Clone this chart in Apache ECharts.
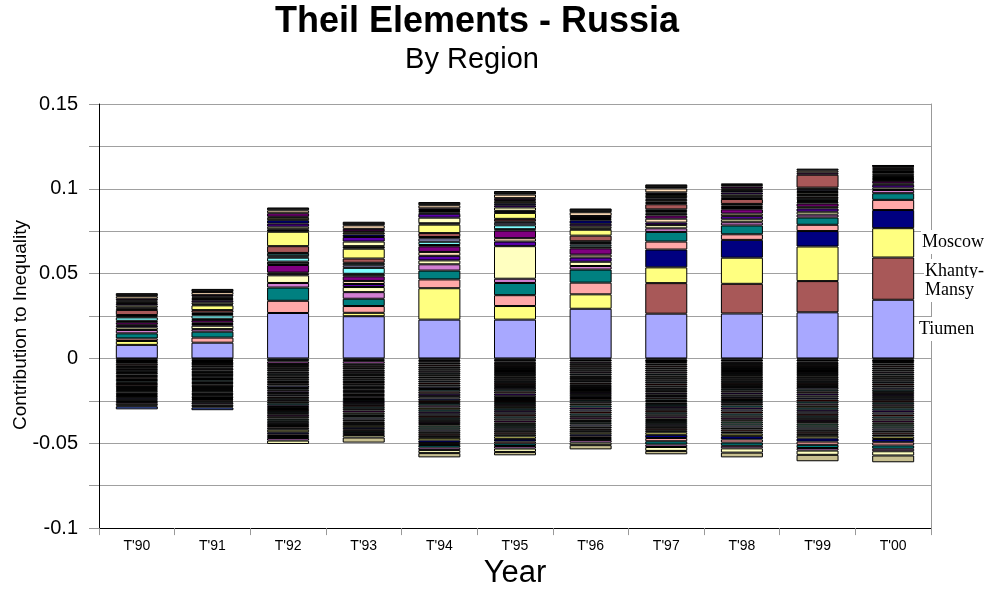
<!DOCTYPE html>
<html><head><meta charset="utf-8">
<script src="https://cdn.jsdelivr.net/npm/echarts@6/dist/echarts.min.js"></script>
<style>html,body{margin:0;padding:0;background:#fff}#c{width:988px;height:594px}</style>
</head><body><div id="c"></div>
<script>
const years = ["T'90","T'91","T'92","T'93","T'94","T'95","T'96","T'97","T'98","T'99","T'00"];
const yTicks = [-0.1, -0.05, 0, 0.05, 0.1, 0.15];

// Positive contributions, stacked from zero upward
const tiumen      = [0.0080,0.0093,0.0268,0.0249,0.0229,0.0229,0.0293,0.0264,0.0265,0.0272,0.0346];
const khantyMansy = [null,null,null,null,null,null,null,0.0180,0.0175,0.0184,0.0249];
const moscow      = [0.0023,null,null,0.0020,0.0185,0.0080,0.0085,0.0093,0.0154,0.0204,0.0173];
const positiveOthers = [
  [null,null,null,null,null,null,null,0.0105,0.0105,0.0091,0.0107],
  [0.0015,0.0030,0.0072,0.0040,0.0052,0.0064,0.0069,0.0047,0.0033,0.0037,0.0060],
  [0.0030,0.0035,0.0078,0.0043,0.0052,0.0072,0.0077,0.0057,0.0052,0.0043,0.0039],
  [0.0020,0.0015,0.0027,0.0039,0.0037,0.0025,0.0021,0.0021,0.0019,0.0017,0.0019],
  [0.0015,0.0020,0.0045,0.0030,0.0023,0.0192,0.0025,0.0019,0.0017,0.0017,0.0014],
  [0.0010,0.0010,0.0010,0.0018,0.0027,0.0027,0.0025,0.0015,0.0019,0.0019,0.0017],
  [0.0006,0.0008,0.0006,0.0018,0.0023,0.0020,0.0017,0.0023,0.0015,0.0010,0.0008],
  [0.0015,0.0015,0.0045,0.0027,0.0033,0.0045,0.0037,0.0019,0.0025,0.0019,0.0015],
  [0.0008,0.0008,0.0020,0.0015,0.0008,0.0008,0.0010,0.0010,0.0008,0.0010,0.0006],
  [0.0020,0.0020,0.0023,0.0035,0.0019,0.0023,0.0012,0.0008,0.0006,0.0006,0.0005],
  [0.0006,0.0008,0.0008,0.0015,0.0020,0.0015,0.0010,0.0008,0.0008,0.0006,0.0005],
  [0.0008,0.0008,0.0020,0.0015,0.0008,0.0008,0.0010,0.0010,0.0010,0.0010,0.0006],
  [0.0030,0.0015,0.0040,0.0025,0.0023,0.0015,0.0033,0.0030,0.0029,0.0010,0.0008],
  [0.0008,0.0028,0.0085,0.0058,0.0050,0.0035,0.0035,0.0008,0.0008,0.0008,0.0006],
  [0.0006,0.0006,0.0015,0.0015,0.0008,0.0012,0.0008,0.0008,0.0008,0.0008,0.0008],
  [0.0012,0.0012,0.0015,0.0027,0.0033,0.0020,0.0012,0.0010,0.0010,0.0010,0.0008],
  [0.0010,0.0012,0.0018,0.0027,0.0023,0.0013,0.0015,0.0008,0.0012,0.0008,0.0008],
  [0.0006,0.0008,0.0020,0.0015,0.0008,0.0012,0.0020,0.0008,0.0010,0.0008,0.0006],
  [0.0008,0.0008,0.0015,0.0012,0.0008,0.0012,0.0008,0.0012,0.0008,0.0010,0.0006],
  [0.0006,0.0006,0.0006,0.0006,0.0006,0.0006,0.0006,0.0006,0.0006,0.0076,0.0006],
  [0.0010,0.0010,0.0020,0.0015,0.0010,0.0012,0.0012,0.0010,0.0012,0.0012,0.0008],
  [0.0015,0.0017,0.0017,0.0021,0.0018,0.0021,0.0022,0.0023,0.0009,0.0012,0.0003],
  [0.0018,0.0018,0.0017,0.0021,0.0019,0.0021,0.0022,0.0024,0.0009,0.0012,0.0003]
];

// Negative contributions, stacked from zero downward
const negativeRegions = [
  [-0.0005,-0.0005,-0.0010,-0.0008,-0.0006,-0.0008,-0.0006,-0.0006,-0.0006,-0.0006,-0.0006],
  [-0.0010,-0.0010,-0.0008,-0.0008,-0.0010,-0.0010,-0.0012,-0.0015,-0.0012,-0.0012,-0.0015],
  [-0.0006,-0.0006,-0.0015,-0.0015,-0.0008,-0.0008,-0.0010,-0.0008,-0.0008,-0.0008,-0.0008],
  [-0.0010,-0.0012,-0.0012,-0.0012,-0.0012,-0.0012,-0.0012,-0.0012,-0.0012,-0.0012,-0.0012],
  [-0.0012,-0.0010,-0.0010,-0.0012,-0.0012,-0.0012,-0.0012,-0.0012,-0.0012,-0.0012,-0.0012],
  [-0.0008,-0.0010,-0.0012,-0.0010,-0.0012,-0.0012,-0.0012,-0.0012,-0.0012,-0.0012,-0.0012],
  [-0.0010,-0.0008,-0.0010,-0.0010,-0.0012,-0.0012,-0.0012,-0.0012,-0.0012,-0.0012,-0.0012],
  [-0.0008,-0.0010,-0.0010,-0.0012,-0.0012,-0.0012,-0.0012,-0.0012,-0.0012,-0.0012,-0.0012],
  [-0.0010,-0.0008,-0.0012,-0.0010,-0.0012,-0.0012,-0.0012,-0.0012,-0.0012,-0.0012,-0.0012],
  [-0.0006,-0.0008,-0.0008,-0.0010,-0.0010,-0.0010,-0.0010,-0.0010,-0.0010,-0.0010,-0.0010],
  [-0.0010,-0.0010,-0.0012,-0.0012,-0.0012,-0.0012,-0.0012,-0.0012,-0.0012,-0.0012,-0.0012],
  [-0.0008,-0.0008,-0.0010,-0.0010,-0.0012,-0.0012,-0.0010,-0.0012,-0.0012,-0.0012,-0.0012],
  [-0.0008,-0.0008,-0.0010,-0.0010,-0.0012,-0.0012,-0.0010,-0.0012,-0.0012,-0.0012,-0.0012],
  [-0.0008,-0.0008,-0.0010,-0.0010,-0.0012,-0.0012,-0.0010,-0.0012,-0.0012,-0.0012,-0.0012],
  [-0.0008,-0.0008,-0.0010,-0.0010,-0.0012,-0.0012,-0.0010,-0.0012,-0.0012,-0.0012,-0.0012],
  [null,null,-0.0015,-0.0008,-0.0014,-0.0013,-0.0012,-0.0010,-0.0011,-0.0014,-0.0013],
  [null,null,-0.0010,-0.0008,-0.0014,-0.0013,-0.0012,-0.0010,-0.0011,-0.0012,-0.0013],
  [null,null,-0.0010,-0.0008,-0.0014,-0.0013,-0.0012,-0.0010,-0.0011,-0.0012,-0.0013],
  [null,null,-0.0010,-0.0008,-0.0014,-0.0013,-0.0012,-0.0010,-0.0011,-0.0012,-0.0012],
  [null,null,-0.0010,-0.0008,-0.0014,-0.0013,-0.0012,-0.0010,-0.0011,-0.0012,-0.0012],
  [null,null,-0.0010,-0.0008,-0.0014,-0.0012,-0.0011,-0.0010,-0.0011,-0.0012,-0.0012],
  [null,null,-0.0010,-0.0008,-0.0013,-0.0012,-0.0011,-0.0010,-0.0011,-0.0012,-0.0012],
  [null,null,-0.0010,-0.0008,-0.0013,-0.0012,-0.0011,-0.0010,-0.0011,-0.0012,-0.0012],
  [null,null,-0.0010,-0.0008,-0.0013,-0.0012,-0.0011,-0.0009,-0.0011,-0.0012,-0.0012],
  [null,null,-0.0010,-0.0008,-0.0013,-0.0012,-0.0011,-0.0009,-0.0010,-0.0012,-0.0012],
  [-0.0010,-0.0008,-0.0012,-0.0012,-0.0012,-0.0012,-0.0012,-0.0012,-0.0012,-0.0012,-0.0012],
  [-0.0006,-0.0008,-0.0010,-0.0012,-0.0012,-0.0012,-0.0012,-0.0012,-0.0012,-0.0012,-0.0012],
  [-0.0008,-0.0008,-0.0012,-0.0012,-0.0012,-0.0012,-0.0012,-0.0012,-0.0012,-0.0012,-0.0012],
  [-0.0010,-0.0008,-0.0012,-0.0010,-0.0012,-0.0012,-0.0012,-0.0012,-0.0012,-0.0012,-0.0012],
  [-0.0008,-0.0008,-0.0012,-0.0012,-0.0012,-0.0012,-0.0012,-0.0012,-0.0012,-0.0012,-0.0012],
  [-0.0006,-0.0006,-0.0010,-0.0010,-0.0012,-0.0012,-0.0010,-0.0012,-0.0012,-0.0012,-0.0012],
  [-0.0006,-0.0006,-0.0012,-0.0012,-0.0012,-0.0012,-0.0012,-0.0012,-0.0012,-0.0012,-0.0012],
  [-0.0006,-0.0006,-0.0010,-0.0010,-0.0010,-0.0010,-0.0010,-0.0010,-0.0010,-0.0010,-0.0010],
  [-0.0006,-0.0006,-0.0010,-0.0010,-0.0012,-0.0012,-0.0010,-0.0012,-0.0012,-0.0012,-0.0012],
  [-0.0008,-0.0008,-0.0010,-0.0010,-0.0012,-0.0012,-0.0010,-0.0012,-0.0012,-0.0012,-0.0012],
  [-0.0008,-0.0008,-0.0012,-0.0012,-0.0012,-0.0012,-0.0012,-0.0012,-0.0012,-0.0012,-0.0012],
  [-0.0006,-0.0008,-0.0012,-0.0010,-0.0012,-0.0012,-0.0012,-0.0012,-0.0012,-0.0012,-0.0012],
  [-0.0006,-0.0006,-0.0010,-0.0010,-0.0012,-0.0012,-0.0010,-0.0012,-0.0012,-0.0012,-0.0012],
  [-0.0008,-0.0010,-0.0012,-0.0012,-0.0012,-0.0012,-0.0012,-0.0012,-0.0012,-0.0012,-0.0012],
  [-0.0006,-0.0006,-0.0015,-0.0012,-0.0015,-0.0015,-0.0012,-0.0015,-0.0015,-0.0015,-0.0015],
  [-0.0008,-0.0008,-0.0012,-0.0012,-0.0015,-0.0015,-0.0012,-0.0019,-0.0019,-0.0019,-0.0019],
  [-0.0006,-0.0006,-0.0010,-0.0010,-0.0012,-0.0012,-0.0010,-0.0019,-0.0019,-0.0019,-0.0019],
  [-0.0008,-0.0008,-0.0012,-0.0012,-0.0015,-0.0015,-0.0012,-0.0019,-0.0019,-0.0019,-0.0019],
  [-0.0010,-0.0010,-0.0015,-0.0012,-0.0015,-0.0015,-0.0015,-0.0015,-0.0015,-0.0015,-0.0015],
  [-0.0010,-0.0010,-0.0020,-0.0015,-0.0018,-0.0020,-0.0015,-0.0023,-0.0025,-0.0025,-0.0025],
  [-0.0006,-0.0008,null,-0.0030,-0.0025,-0.0020,-0.0025,-0.0020,-0.0028,-0.0038,-0.0040],
  [-0.0017,-0.0016,null,null,null,null,null,null,null,null,null]
];

// Styles
const mainColors = ['#A8A8FF','#A85858','#FFFF80'];
const posColors = ['#000080','#FFA8A8','#008080','#D27FD2','#FFFFC0','#5A00AA','#FFDDB8','#800080',
  '#303030','#80FFFF','#9999CC','#204848','#A85858','#FFFF80','#101010','#FFFFC0','#5A00AA','#000080',
  '#7A7A3A','#A85858','#800080','#FFDDB8','#151515'];
const negColors = ['#33BBBB','#000000','#CC66CC','#1a1a1a','#4a2020','#202020','#3a3a3a','#4a304a',
  '#1a3038','#707050','#101010','#505050','#2a3a4a','#500000','#404040',
  '#505070','#206060','#705050','#5a00aa','#808080','#303070','#800000','#30A0A0','#906090','#606030',
  '#33CCCC','#5a00aa','#CCCCFF','#800000','#66CCCC','#A0A0A0','#800080','#FFFFC0','#66CC99','#88DDCC',
  '#CCCCFF','#303030','#AA5555','#101010','#FFFF80','#000080','#FFA6A6','#008080','#D47FD4',
  '#FFFFC0','#C8C090'];

const series = [];
function addBar(name, data, color){
  series.push({
    name: name, type: 'bar', stack: 'all', stackStrategy: 'samesign',
    data: data, barWidth: 42,
    itemStyle: {color: color, borderColor: '#000', borderWidth: 1},
    emphasis: {disabled: true}
  });
}
addBar('Tiumen', tiumen, mainColors[0]);
addBar('Khanty-Mansy', khantyMansy, mainColors[1]);
addBar('Moscow', moscow, mainColors[2]);
positiveOthers.forEach((d,i)=>addBar('P'+(i+4), d, posColors[i]));
negativeRegions.forEach((d,i)=>addBar('N'+(i+1), d, negColors[i]));

const chart = echarts.init(document.getElementById('c'), null, {renderer:'canvas'});
const font = 'Liberation Sans';
chart.setOption({
  animation: false,
  backgroundColor: '#fff',
  grid: {left: 99, right: 57, top: 104, bottom: 61, containLabel: false},
  xAxis: {
    type: 'category', data: years, boundaryGap: true,
    axisLine: {onZero: false, lineStyle: {color: '#000', width: 1}},
    axisTick: {show: true, alignWithLabel: false, length: 7, lineStyle: {color: '#999'}},
    axisLabel: {color: '#000', fontFamily: font, fontSize: 14, margin: 11},
    name: 'Year', nameLocation: 'middle', nameGap: 28,
    nameTextStyle: {color: '#000', fontFamily: font, fontSize: 31}
  },
  yAxis: [{
    type: 'value', min: -0.1, max: 0.15, interval: 0.025,
    axisLine: {show: true, onZero: false, lineStyle: {color: '#000', width: 1}},
    axisTick: {show: true, length: 10, lineStyle: {color: '#999'}},
    splitLine: {show: true, lineStyle: {color: '#a0a0a0', width: 1}},
    axisLabel: {
      color: '#000', fontFamily: font, fontSize: 20, margin: 21,
      formatter: function(v){
        const k = Math.round(v*1000);
        if (k % 50 !== 0) return '';
        const t = yTicks.find(x => Math.abs(x - v) < 1e-9);
        return t === undefined ? '' : String(t);
      }
    }
  },{
    type: 'value', min: -0.1, max: 0.15, interval: 0.025, position: 'right',
    axisLine: {show: true, onZero: false, lineStyle: {color: '#999', width: 1}},
    axisTick: {show: false}, axisLabel: {show: false}, splitLine: {show: false}
  }],
  series: series,
  graphic: [
    {type: 'text', x: 477, y: 22, z: 100, style: {text: 'Theil Elements - Russia', font: 'bold 36px "Liberation Sans"', fill: '#000', align: 'center', verticalAlign: 'middle'}},
    {type: 'text', x: 472, y: 60, z: 100, style: {text: 'By Region', font: '29px "Liberation Sans"', fill: '#000', align: 'center', verticalAlign: 'middle'}},
    {type: 'text', x: 21, y: 325, rotation: Math.PI/2, z: 100, style: {text: 'Contribution to Inequality', font: '19px "Liberation Sans"', fill: '#000', align: 'center', verticalAlign: 'middle'}},
    {type: 'text', x: 921, y: 242, z: 100, style: {text: 'Moscow', font: '18px "Liberation Serif"', fill: '#000', verticalAlign: 'middle', backgroundColor: '#fff', padding: [3,1]}},
    {type: 'text', x: 924, y: 271, z: 100, style: {text: 'Khanty-', font: '18px "Liberation Serif"', fill: '#000', verticalAlign: 'middle', backgroundColor: '#fff', padding: [3,1]}},
    {type: 'text', x: 924, y: 290, z: 100, style: {text: 'Mansy', font: '18px "Liberation Serif"', fill: '#000', verticalAlign: 'middle', backgroundColor: '#fff', padding: [3,1]}},
    {type: 'text', x: 918, y: 329, z: 100, style: {text: 'Tiumen', font: '18px "Liberation Serif"', fill: '#000', verticalAlign: 'middle', backgroundColor: '#fff', padding: [3,1]}}
  ]
});
</script>
</body></html>
